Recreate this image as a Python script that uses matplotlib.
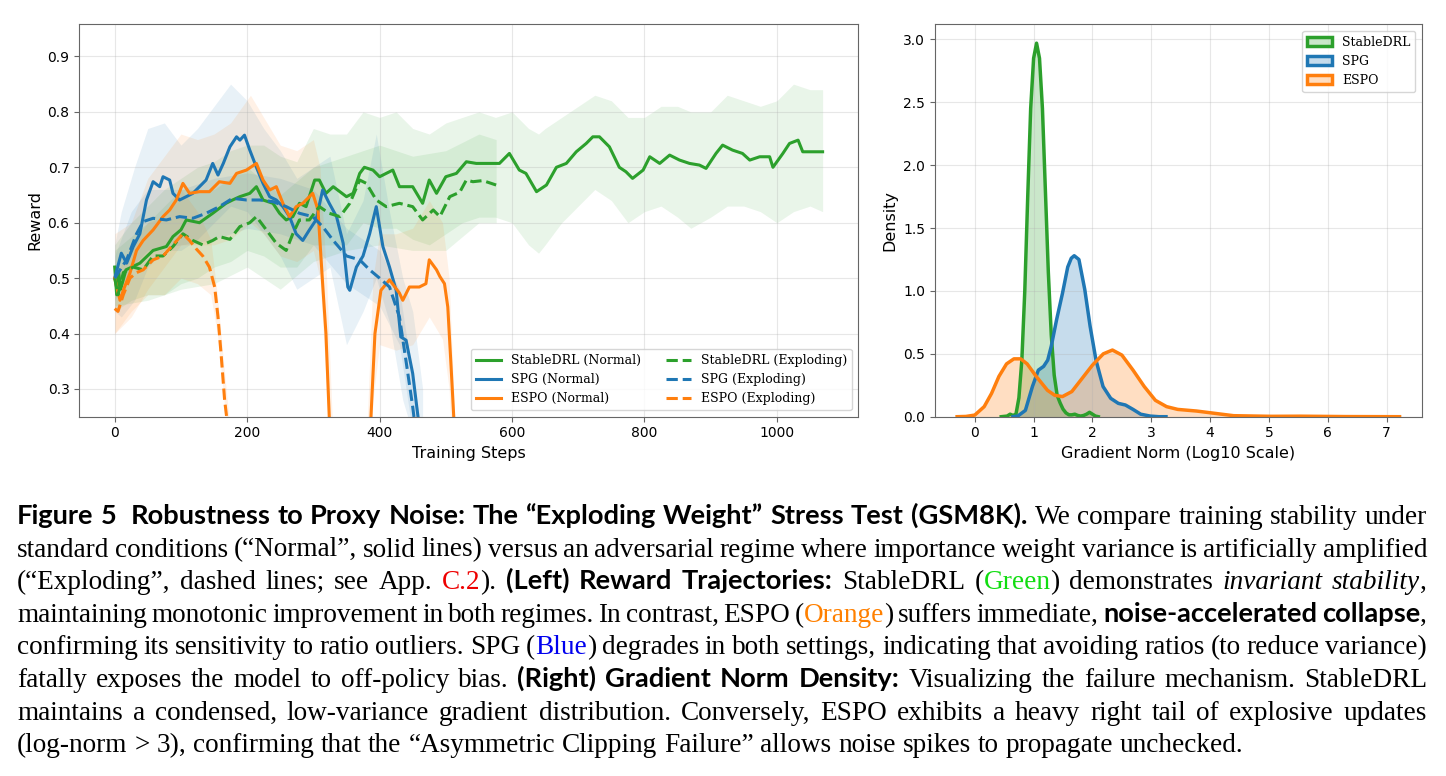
import matplotlib
matplotlib.use('Agg')
import matplotlib.pyplot as plt
from matplotlib.patches import Patch
from matplotlib.colors import to_rgba

GREEN = '#2ca02c'
BLUE = '#1f77b4'
ORANGE = '#ff7f0e'

# ---- left panel: reward trajectories ----
sd_norm_x = [0, 3, 6, 9, 17, 38, 58, 78, 88, 100, 108, 128, 148, 168, 178, 189, 204, 214, 224, 239,
             249, 259, 269, 279, 289, 302, 309, 319, 330, 350, 360, 370, 377, 390, 400, 420, 430, 450,
             465, 475, 486, 500, 516, 531, 546, 561, 581, 596, 611, 621, 637, 652, 667, 682, 697, 712,
             722, 732, 747, 762, 772, 782, 798, 808, 823, 838, 853, 868, 883, 893, 908, 918, 933, 948,
             959, 974, 989, 994, 1009, 1019, 1032, 1039, 1054, 1069]
sd_norm_y = [0.52, 0.47, 0.51, 0.48, 0.515, 0.527, 0.55, 0.557, 0.575, 0.587, 0.605, 0.60, 0.617, 0.635,
             0.641, 0.647, 0.653, 0.665, 0.641, 0.635, 0.617, 0.605, 0.611, 0.635, 0.629, 0.677, 0.677,
             0.653, 0.665, 0.647, 0.653, 0.689, 0.70, 0.695, 0.683, 0.695, 0.665, 0.665, 0.635, 0.677,
             0.653, 0.683, 0.689, 0.71, 0.707, 0.707, 0.707, 0.725, 0.695, 0.689, 0.656, 0.668, 0.70,
             0.707, 0.728, 0.743, 0.755, 0.755, 0.737, 0.70, 0.692, 0.68, 0.695, 0.719, 0.707, 0.722,
             0.713, 0.707, 0.704, 0.698, 0.725, 0.74, 0.731, 0.725, 0.713, 0.719, 0.719, 0.70, 0.725,
             0.743, 0.749, 0.728, 0.728, 0.728]
sd_norm_bx = [0, 25, 50, 75, 100, 125, 150, 175, 200, 225, 250, 275, 300, 325, 350, 375, 400, 425, 450,
              475, 500, 525, 550, 575, 600, 625, 640, 650, 675, 700, 725, 750, 775, 800, 825, 850, 870,
              900, 925, 950, 975, 1000, 1025, 1050, 1069]
sd_norm_lo = [0.44, 0.46, 0.47, 0.47, 0.49, 0.50, 0.52, 0.53, 0.55, 0.54, 0.52, 0.52, 0.56, 0.56, 0.56,
              0.60, 0.59, 0.59, 0.57, 0.56, 0.58, 0.60, 0.61, 0.61, 0.60, 0.56, 0.545, 0.56, 0.60, 0.63,
              0.66, 0.64, 0.60, 0.62, 0.63, 0.61, 0.59, 0.61, 0.63, 0.63, 0.62, 0.60, 0.62, 0.63, 0.62]
sd_norm_hi = [0.56, 0.60, 0.63, 0.66, 0.68, 0.70, 0.71, 0.73, 0.74, 0.74, 0.72, 0.71, 0.77, 0.76, 0.76,
              0.80, 0.79, 0.80, 0.77, 0.76, 0.78, 0.79, 0.80, 0.79, 0.80, 0.77, 0.76, 0.77, 0.79, 0.81,
              0.83, 0.82, 0.79, 0.79, 0.81, 0.81, 0.80, 0.80, 0.83, 0.82, 0.81, 0.82, 0.85, 0.84, 0.84]

sd_expl_x = [0, 5, 13, 28, 43, 58, 73, 88, 103, 118, 133, 148, 158, 174, 189, 204, 214, 229, 244, 259,
             269, 279, 294, 309, 324, 340, 355, 370, 380, 395, 410, 430, 450, 465, 481, 491, 506, 521,
             531, 541, 556, 566, 576]
sd_expl_y = [0.50, 0.47, 0.51, 0.52, 0.515, 0.54, 0.54, 0.557, 0.58, 0.568, 0.56, 0.568, 0.575, 0.57,
             0.593, 0.60, 0.611, 0.587, 0.563, 0.55, 0.58, 0.605, 0.605, 0.629, 0.617, 0.611, 0.635,
             0.677, 0.671, 0.641, 0.629, 0.635, 0.629, 0.605, 0.623, 0.611, 0.647, 0.655, 0.677, 0.674,
             0.676, 0.672, 0.668]
sd_expl_bx = [0, 50, 100, 150, 200, 250, 300, 350, 400, 450, 500, 550, 576]
sd_expl_lo = [0.45, 0.46, 0.48, 0.49, 0.52, 0.48, 0.53, 0.55, 0.56, 0.55, 0.55, 0.60, 0.60]
sd_expl_hi = [0.55, 0.60, 0.66, 0.66, 0.70, 0.65, 0.70, 0.72, 0.74, 0.72, 0.73, 0.76, 0.75]

spg_norm_x = [0, 10, 18, 28, 38, 48, 58, 68, 73, 83, 88, 98, 108, 118, 128, 138, 148, 156, 164, 174,
              184, 189, 196, 204, 214, 224, 234, 244, 254, 264, 274, 284, 294, 304, 314, 324, 335, 345,
              352, 355, 365, 375, 385, 395, 405, 415, 425, 432, 440, 450, 458, 462]
spg_norm_y = [0.50, 0.545, 0.527, 0.557, 0.58, 0.641, 0.674, 0.665, 0.683, 0.677, 0.653, 0.641, 0.647,
              0.653, 0.665, 0.677, 0.707, 0.686, 0.707, 0.737, 0.755, 0.749, 0.758, 0.731, 0.70, 0.671,
              0.647, 0.641, 0.629, 0.611, 0.58, 0.568, 0.587, 0.605, 0.659, 0.635, 0.611, 0.563, 0.484,
              0.478, 0.52, 0.54, 0.58, 0.629, 0.557, 0.52, 0.478, 0.394, 0.388, 0.328, 0.25, 0.20]
spg_norm_bx = [0, 10, 30, 50, 75, 100, 125, 150, 175, 200, 225, 250, 275, 300, 325, 350, 375, 395, 415,
               435, 450, 465]
spg_norm_lo = [0.44, 0.43, 0.46, 0.52, 0.55, 0.55, 0.57, 0.60, 0.63, 0.62, 0.58, 0.54, 0.48, 0.50, 0.52,
               0.38, 0.44, 0.50, 0.42, 0.28, 0.22, 0.10]
spg_norm_hi = [0.56, 0.62, 0.70, 0.77, 0.78, 0.74, 0.77, 0.81, 0.85, 0.82, 0.77, 0.73, 0.68, 0.70, 0.72,
               0.58, 0.64, 0.76, 0.62, 0.50, 0.44, 0.30]

spg_expl_x = [0, 18, 33, 43, 58, 78, 98, 118, 138, 158, 178, 199, 219, 239, 259, 279, 299, 314, 330,
              350, 370, 385, 400, 415, 430, 440, 450, 455]
spg_expl_y = [0.50, 0.533, 0.58, 0.602, 0.608, 0.605, 0.611, 0.608, 0.617, 0.629, 0.644, 0.641, 0.641,
              0.638, 0.629, 0.617, 0.611, 0.593, 0.568, 0.54, 0.533, 0.515, 0.50, 0.484, 0.43, 0.35,
              0.268, 0.22]
spg_expl_bx = [0, 25, 50, 100, 150, 200, 250, 300, 350, 400, 430, 450, 460]
spg_expl_lo = [0.46, 0.52, 0.55, 0.56, 0.57, 0.59, 0.58, 0.56, 0.49, 0.45, 0.38, 0.22, 0.15]
spg_expl_hi = [0.54, 0.62, 0.66, 0.66, 0.68, 0.69, 0.68, 0.66, 0.59, 0.55, 0.48, 0.32, 0.25]

espo_norm_x = [0, 8, 13, 23, 33, 43, 58, 73, 83, 93, 103, 113, 128, 143, 158, 174, 184, 199, 214, 224,
               234, 244, 254, 264, 274, 284, 299, 307, 314, 319, 324, 330, 380, 387, 393, 402, 415, 430,
               435, 445, 460, 470, 475, 486, 491, 498, 503, 508, 512, 516]
espo_norm_y = [0.50, 0.46, 0.478, 0.509, 0.55, 0.568, 0.587, 0.611, 0.623, 0.641, 0.671, 0.653, 0.656,
               0.656, 0.674, 0.671, 0.689, 0.695, 0.707, 0.677, 0.659, 0.665, 0.635, 0.611, 0.629, 0.635,
               0.653, 0.623, 0.49, 0.40, 0.25, 0.10, 0.10, 0.25, 0.40, 0.478, 0.497, 0.473, 0.46, 0.484,
               0.484, 0.49, 0.533, 0.515, 0.503, 0.49, 0.448, 0.34, 0.25, 0.15]
espo_norm_bx = [0, 25, 50, 75, 100, 125, 150, 175, 205, 225, 250, 275, 300, 310, 320, 330, 380, 390, 400,
                425, 450, 475, 495, 505, 515]
espo_norm_lo = [0.40, 0.43, 0.48, 0.52, 0.56, 0.56, 0.56, 0.57, 0.60, 0.58, 0.54, 0.53, 0.55, 0.50, 0.30,
                0.0, 0.0, 0.28, 0.38, 0.37, 0.38, 0.43, 0.39, 0.30, 0.0]
espo_norm_hi = [0.58, 0.60, 0.68, 0.72, 0.76, 0.75, 0.76, 0.78, 0.83, 0.79, 0.74, 0.73, 0.75, 0.70, 0.50,
                0.2, 0.2, 0.50, 0.58, 0.58, 0.59, 0.64, 0.60, 0.50, 0.2]

espo_expl_x = [0, 5, 13, 23, 33, 43, 58, 73, 88, 103, 113, 123, 133, 143, 151, 156, 161, 166, 169, 172]
espo_expl_y = [0.445, 0.44, 0.47, 0.50, 0.51, 0.515, 0.533, 0.54, 0.56, 0.58, 0.568, 0.553, 0.54, 0.52,
               0.484, 0.43, 0.358, 0.28, 0.25, 0.20]
espo_expl_bx = [0, 25, 50, 75, 100, 125, 145, 155, 165, 175]
espo_expl_lo = [0.40, 0.44, 0.47, 0.47, 0.50, 0.49, 0.47, 0.40, 0.28, 0.15]
espo_expl_hi = [0.50, 0.56, 0.60, 0.61, 0.66, 0.62, 0.57, 0.47, 0.34, 0.22]

# ---- right panel: gradient norm density (log10) ----
kde_sd_x = [0.45, 0.55, 0.6, 0.65, 0.7, 0.75, 0.8, 0.85, 0.9, 0.95, 1.0, 1.05, 1.1, 1.15, 1.2, 1.25,
            1.3, 1.35, 1.4, 1.45, 1.5, 1.55, 1.6, 1.65, 1.7, 1.75, 1.8, 1.85, 1.9, 1.95, 2.0, 2.05, 2.1]
kde_sd_y = [0.0, 0.005, 0.02, 0.01, 0.02, 0.15, 0.45, 1.0, 1.75, 2.45, 2.85, 2.97, 2.85, 2.45, 1.8, 1.15,
            0.65, 0.33, 0.17, 0.11, 0.06, 0.03, 0.015, 0.015, 0.02, 0.01, 0.005, 0.01, 0.02, 0.035,
            0.02, 0.005, 0.0]
kde_spg_x = [0.65, 0.73, 0.86, 0.98, 1.08, 1.17, 1.24, 1.30, 1.39, 1.49, 1.58, 1.64, 1.69, 1.77, 1.87,
             1.96, 2.06, 2.18, 2.31, 2.44, 2.56, 2.69, 2.82, 2.98, 3.13, 3.25]
kde_spg_y = [0.0, 0.005, 0.05, 0.24, 0.37, 0.40, 0.45, 0.56, 0.77, 0.98, 1.19, 1.26, 1.28, 1.25, 1.01,
             0.72, 0.45, 0.24, 0.146, 0.106, 0.093, 0.058, 0.02, 0.005, 0.0, 0.0]
kde_espo_x = [-0.30, -0.15, 0.0, 0.16, 0.285, 0.41, 0.54, 0.665, 0.78, 0.89, 1.045, 1.235, 1.36, 1.49,
              1.65, 1.80, 2.0, 2.185, 2.34, 2.50, 2.69, 2.88, 3.07, 3.26, 3.45, 3.77, 3.99, 4.21, 4.40,
              5.03, 5.54, 6.3, 7.22]
kde_espo_y = [0.0, 0.002, 0.013, 0.08, 0.185, 0.32, 0.42, 0.46, 0.46, 0.42, 0.32, 0.21, 0.17, 0.16,
              0.20, 0.29, 0.41, 0.50, 0.53, 0.49, 0.37, 0.24, 0.13, 0.08, 0.058, 0.045, 0.032, 0.019,
              0.008, 0.003, 0.004, 0.001, 0.0]

W, H = 1446, 776
fig = plt.figure(figsize=(W / 100, H / 100), dpi=100)

ax1 = fig.add_axes([79.3 / W, 1 - 416.7 / H, (858 - 79.3) / W, (416.7 - 24.3) / H])
ax2 = fig.add_axes([935 / W, 1 - 416.7 / H, (1421.7 - 935) / W, (416.7 - 24.3) / H])

bands = [(sd_norm_bx, sd_norm_lo, sd_norm_hi, GREEN), (sd_expl_bx, sd_expl_lo, sd_expl_hi, GREEN),
         (spg_norm_bx, spg_norm_lo, spg_norm_hi, BLUE), (spg_expl_bx, spg_expl_lo, spg_expl_hi, BLUE),
         (espo_norm_bx, espo_norm_lo, espo_norm_hi, ORANGE), (espo_expl_bx, espo_expl_lo, espo_expl_hi, ORANGE)]
for bx, lo, hi, c in bands:
    ax1.fill_between(bx, lo, hi, color=c, alpha=0.1, lw=0)

lw = 2.2
ax1.plot(sd_norm_x, sd_norm_y, color=GREEN, lw=lw, label='StableDRL (Normal)')
ax1.plot(spg_norm_x, spg_norm_y, color=BLUE, lw=lw, label='SPG (Normal)')
ax1.plot(espo_norm_x, espo_norm_y, color=ORANGE, lw=lw, label='ESPO (Normal)')
ax1.plot(sd_expl_x, sd_expl_y, color=GREEN, lw=lw, ls='--', label='StableDRL (Exploding)')
ax1.plot(spg_expl_x, spg_expl_y, color=BLUE, lw=lw, ls='--', label='SPG (Exploding)')
ax1.plot(espo_expl_x, espo_expl_y, color=ORANGE, lw=lw, ls='--', label='ESPO (Exploding)')

ax1.set_ylim(0.25, 0.958)
ax1.set_yticks([0.3, 0.4, 0.5, 0.6, 0.7, 0.8, 0.9])
ax1.set_xticks([0, 200, 400, 600, 800, 1000])
ax1.set_xlabel('Training Steps', fontsize=11.5)
ax1.set_ylabel('Reward', fontsize=11.5)
ax1.legend(ncol=2, loc='lower right', prop={'family': 'DejaVu Serif', 'size': 9})

for xs, ys, c in [(kde_sd_x, kde_sd_y, GREEN), (kde_spg_x, kde_spg_y, BLUE), (kde_espo_x, kde_espo_y, ORANGE)]:
    ax2.fill_between(xs, 0, ys, color=c, alpha=0.25, lw=0)
    ax2.plot(xs, ys, color=c, lw=2.5)
ax2.set_ylim(0, 3.12)
ax2.set_xticks(range(8))
ax2.set_xlabel('Gradient Norm (Log10 Scale)', fontsize=11.5)
ax2.set_ylabel('Density', fontsize=11.5)
handles = [Patch(facecolor=to_rgba(c, 0.25), edgecolor=c, lw=2.5, label=n)
           for c, n in [(GREEN, 'StableDRL'), (BLUE, 'SPG'), (ORANGE, 'ESPO')]]
ax2.legend(handles=handles, loc='upper right', prop={'family': 'DejaVu Serif', 'size': 9})

for ax in (ax1, ax2):
    ax.grid(True, alpha=0.3)
    ax.tick_params(labelsize=10, color='#666666')
    for s in ax.spines.values():
        s.set_edgecolor('#666666')

# ---- caption ----
CAP = 19.6
serif = ['Liberation Serif', 'DejaVu Serif']
sans = ['Lato', 'DejaVu Sans']
styles = {
    'n': dict(family=serif),
    'b': dict(family=sans, weight='bold'),
    'i': dict(family=serif, style='italic'),
    'red': dict(family=serif, color='#ee0000'),
    'grn': dict(family=serif, color='#11dd11'),
    'org': dict(family=serif, color='#ff8000'),
    'blu': dict(family=serif, color='#0000ee'),
}
caption = [
    [('Figure 5  Robustness to Proxy Noise: The \u201cExploding Weight\u201d Stress Test (GSM8K).', 'b'),
     (' We compare training stability under', 'n')],
    [('standard conditions (\u201cNormal\u201d, solid lines) versus an adversarial regime where importance '
      'weight variance is artificially amplified', 'n')],
    [('(\u201cExploding\u201d, dashed lines; see App. ', 'n'), ('C.2', 'red'), ('). ', 'n'),
     ('(Left) Reward Trajectories:', 'b'), (' StableDRL (', 'n'), ('Green', 'grn'),
     (') demonstrates ', 'n'), ('invariant stability', 'i'), (',', 'n')],
    [('maintaining monotonic improvement in both regimes. In contrast, ESPO (', 'n'), ('Orange', 'org'),
     (') suffers immediate, ', 'n'), ('noise-accelerated collapse', 'b'), (',', 'n')],
    [('confirming its sensitivity to ratio outliers. SPG (', 'n'), ('Blue', 'blu'),
     (') degrades in both settings, indicating that avoiding ratios (to reduce variance)', 'n')],
    [('fatally exposes the model to off-policy bias. ', 'n'), ('(Right) Gradient Norm Density:', 'b'),
     (' Visualizing the failure mechanism. StableDRL', 'n')],
    [('maintains a condensed, low-variance gradient distribution. Conversely, ESPO exhibits a heavy '
      'right tail of explosive updates', 'n')],
    [('(log-norm > 3), confirming that the \u201cAsymmetric Clipping Failure\u201d allows noise spikes '
      'to propagate unchecked.', 'n')],
]

renderer = fig.canvas.get_renderer()
x_left, x_right = 17, 1427
space_px = 0.25 * CAP * 100 / 72
for li, segs in enumerate(caption):
    base = 524 + 32.6 * li
    toks = []
    for text, st in segs:
        for k, word in enumerate(text.split(' ')):
            if k > 0:
                toks.append(None)
            if word:
                toks.append((word, st))
    items = []
    for tk in toks:
        if tk is None:
            items.append(None)
            continue
        t = fig.text(0, 1 - base / H, tk[0], fontsize=CAP, va='baseline', ha='left', **styles[tk[1]])
        items.append((t, t.get_window_extent(renderer).width))
    n_sp = sum(1 for it in items if it is None)
    natural = sum(it[1] for it in items if it is not None) + n_sp * space_px
    gap = space_px
    if li < len(caption) - 1 and n_sp:
        gap = space_px + (x_right - x_left - natural) / n_sp
    x = x_left
    for it in items:
        if it is None:
            x += gap
        else:
            it[0].set_x(x / W)
            x += it[1]

fig.savefig('out.png', dpi=100)
